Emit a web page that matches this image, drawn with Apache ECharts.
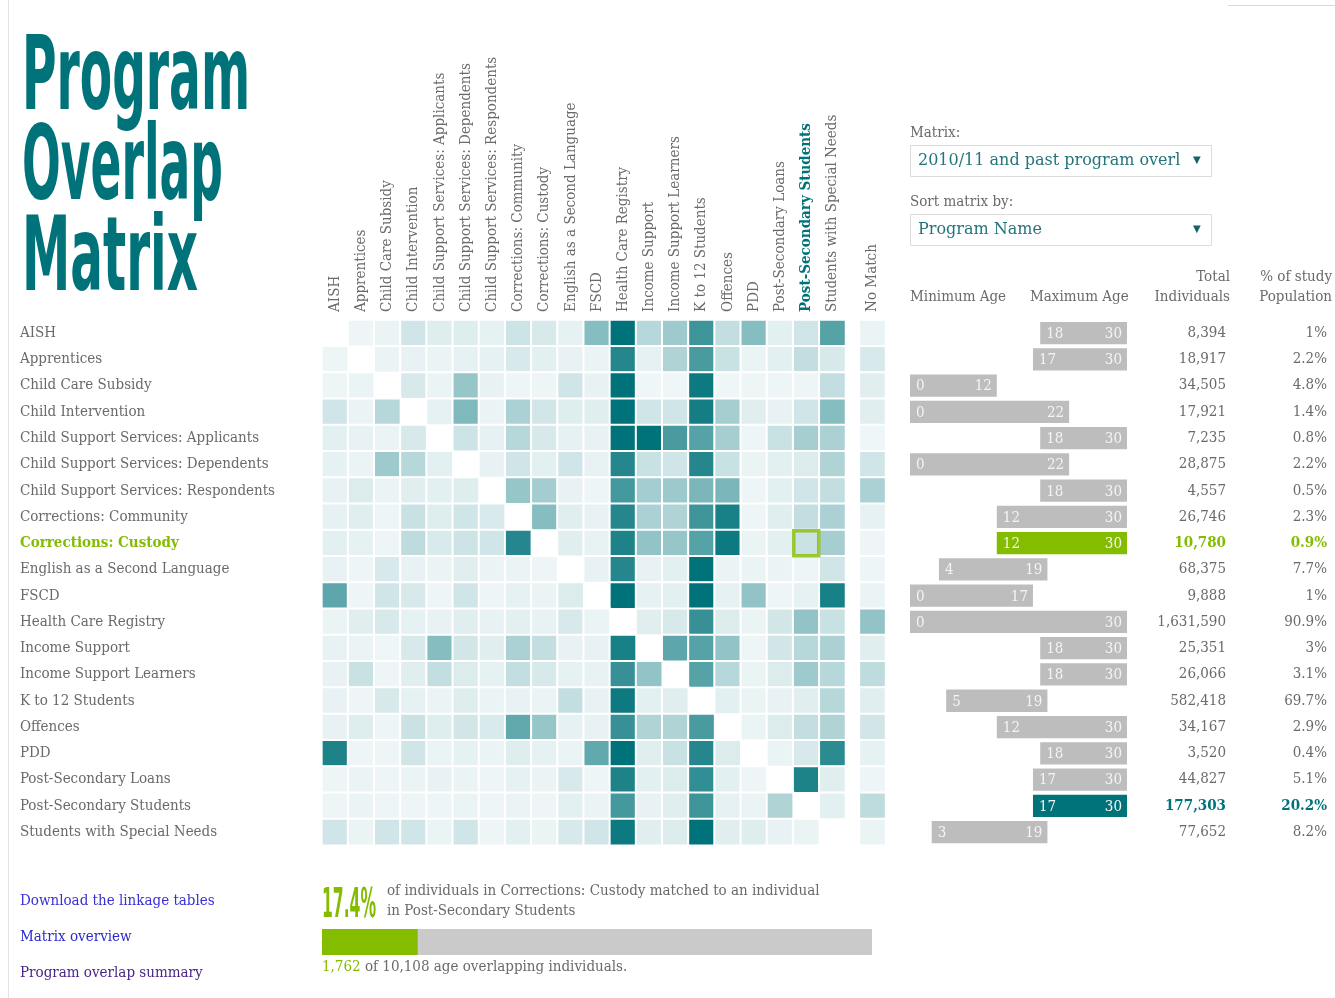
<!DOCTYPE html>
<html>
<head>
<meta charset="utf-8">
<title>Program Overlap Matrix</title>
<script src="https://cdn.jsdelivr.net/npm/echarts@6/dist/echarts.min.js"></script>
<style>
  html, body { margin: 0; padding: 0; background: #fff; }
  #chart { width: 1335px; height: 998px; }
</style>
</head>
<body>
<div id="chart"></div>
<script>
// programs, in matrix order (rows and columns)
const programs = [
  'AISH', 'Apprentices', 'Child Care Subsidy', 'Child Intervention',
  'Child Support Services: Applicants', 'Child Support Services: Dependents',
  'Child Support Services: Respondents', 'Corrections: Community', 'Corrections: Custody',
  'English as a Second Language', 'FSCD', 'Health Care Registry', 'Income Support',
  'Income Support Learners', 'K to 12 Students', 'Offences', 'PDD',
  'Post-Secondary Loans', 'Post-Secondary Students', 'Students with Special Needs'
];
const extraColumn = ['No Match'];

// % of row program matched to column program (null = same program)
const overlapPct = [
  [null, 3, 4, 15, 9, 9, 6, 16, 12, 6, 45, 100, 25, 35, 75, 20, 45, 7, 15, 65],
  [3, null, 4, 5, 4, 6, 6, 12, 7, 5, 4, 85, 6, 28, 70, 18, 4, 7, 20, 12],
  [3, 4, null, 12, 4, 38, 5, 3, 3, 15, 5, 100, 2, 2, 95, 2, 3, 3, 3, 20],
  [15, 4, 25, null, 6, 48, 4, 30, 14, 9, 8, 100, 15, 15, 92, 32, 8, 5, 15, 45],
  [7, 5, 4, 12, null, 16, 6, 25, 12, 6, 5, 100, 100, 70, 65, 32, 3, 18, 32, 30],
  [6, 4, 35, 25, 7, null, 5, 15, 7, 15, 5, 85, 18, 15, 85, 18, 4, 7, 10, 28],
  [5, 10, 4, 8, 7, 9, null, 38, 33, 5, 3, 72, 33, 36, 50, 50, 3, 7, 15, 20],
  [6, 8, 3, 18, 9, 15, 11, null, 45, 8, 5, 85, 30, 28, 75, 90, 3, 8, 20, 30],
  [7, 6, 3, 22, 11, 16, 15, 85, null, 8, 5, 88, 40, 38, 65, 95, 4, 7, 17, 32],
  [5, 3, 12, 5, 4, 8, 4, 4, 3, null, 5, 85, 5, 7, 100, 4, 4, 4, 3, 15],
  [62, 3, 15, 12, 3, 15, 3, 6, 4, 10, null, 100, 6, 7, 100, 6, 40, 3, 6, 90],
  [4, 8, 12, 6, 5, 8, 5, 7, 5, 12, 4, null, 8, 12, 78, 10, 4, 14, 40, 18],
  [5, 4, 2, 12, 45, 14, 8, 30, 20, 5, 5, 90, null, 62, 65, 40, 3, 14, 25, 30],
  [5, 18, 3, 8, 20, 10, 6, 20, 12, 6, 5, 78, 40, null, 65, 25, 4, 10, 35, 25],
  [5, 3, 12, 6, 4, 9, 4, 5, 4, 20, 5, 95, 7, 8, null, 7, 4, 5, 8, 25],
  [5, 9, 3, 17, 9, 14, 11, 60, 38, 6, 5, 78, 28, 28, 70, null, 4, 10, 20, 28],
  [88, 3, 3, 15, 4, 6, 4, 9, 6, 4, 60, 100, 8, 18, 85, 10, null, 4, 12, 82],
  [3, 4, 3, 4, 5, 4, 3, 6, 4, 12, 3, 88, 7, 10, 80, 7, 3, null, 88, 8],
  [3, 4, 3, 3, 3, 4, 3, 4, 3, 7, 4, 72, 5, 8, 75, 6, 4, 28, null, 7],
  [15, 4, 15, 15, 4, 15, 3, 7, 4, 12, 15, 95, 8, 10, 100, 8, 9, 5, 4, null]
];
const noMatchPct = [4, 12, 8, 8, 2, 15, 30, 6, 3, 3, 4, 40, 8, 22, 8, 14, 6, 3, 22, 4];

const minAge = [18, 17, 0, 0, 18, 0, 18, 12, 12, 4, 0, 0, 18, 18, 5, 12, 18, 17, 17, 3];
const maxAge = [30, 30, 12, 22, 30, 22, 30, 30, 30, 19, 17, 30, 30, 30, 19, 30, 30, 30, 30, 19];
const totalIndividuals = [8394, 18917, 34505, 17921, 7235, 28875, 4557, 26746, 10780, 68375,
  9888, 1631590, 25351, 26066, 582418, 34167, 3520, 44827, 177303, 77652];
const studyPct = [1, 2.2, 4.8, 1.4, 0.8, 2.2, 0.5, 2.3, 0.9, 7.7, 1, 90.9, 3, 3.1, 69.7, 2.9, 0.4, 5.1, 20.2, 8.2];

// selected cell
const focusRow = 8;    // Corrections: Custody
const focusCol = 18;   // Post-Secondary Students
const matchPct = 17.4;
const matchedCount = 1762;
const overlapCount = 10108;

const TEAL = '#00737a';
const GREEN = '#84bc00';
const GREY = '#6a6a6a';
const SLAB = '"DejaVu Serif Condensed", "DejaVu Serif", serif';
const NARROW = '"DejaVu Sans Condensed", "DejaVu Sans", sans-serif';
const FS = 15;

function fitScale(text, font, width) {
  const ctx = document.createElement('canvas').getContext('2d');
  ctx.font = font;
  return width / ctx.measureText(text).width;
}

const heatData = [];
overlapPct.forEach((row, r) => {
  row.forEach((v, c) => {
    if (v !== null) heatData.push([c, r, v]);
  });
});
const noMatchData = noMatchPct.map((v, r) => [0, r, v]);
const ageData = programs.map((p, i) => [i, minAge[i], maxAge[i]]);

const fmt = n => n.toLocaleString('en-US');

const chart = echarts.init(document.getElementById('chart'));

const titleFont = 'bold 103px ' + NARROW;
const bigFont = 'bold 41px ' + NARROW;
const titleLines = [
  { text: 'Program', y: 82, w: 228 },
  { text: 'Overlap', y: 172, w: 201 },
  { text: 'Matrix', y: 263, w: 176 }
];

const graphics = [
  { type: 'line', shape: { x1: 8.5, y1: 0, x2: 8.5, y2: 998 }, style: { stroke: '#e2e2ea', lineWidth: 1 } },
  { type: 'line', shape: { x1: 1228, y1: 5.5, x2: 1335, y2: 5.5 }, style: { stroke: '#d8d8d8', lineWidth: 1 } }
];
titleLines.forEach(t => {
  graphics.push({
    type: 'text', x: 22, y: t.y, scaleX: fitScale(t.text, titleFont, t.w),
    style: { text: t.text, font: titleFont, fill: TEAL, verticalAlign: 'middle' }
  });
});

function txt(text, x, y, opts) {
  return {
    type: 'text', x: x, y: y,
    style: Object.assign({ text: text, font: FS + 'px ' + SLAB, fill: GREY, verticalAlign: 'middle', align: 'left' }, opts || {})
  };
}

// controls
graphics.push(txt('Matrix:', 910, 133));
graphics.push({ type: 'rect', shape: { x: 910.5, y: 145.5, width: 301, height: 31 }, style: { fill: '#fff', stroke: '#dcdcdc' } });
graphics.push(txt('2010/11 and past program overlap', 918, 161, { font: '16px "DejaVu Serif", serif', fill: '#23757b', width: 272, overflow: 'truncate', ellipsis: '' }));
graphics.push(txt('▼', 1193, 160, { font: '10px "DejaVu Sans", sans-serif', fill: '#1b5f66' }));
graphics.push(txt('Sort matrix by:', 910, 202));
graphics.push({ type: 'rect', shape: { x: 910.5, y: 214.5, width: 301, height: 31 }, style: { fill: '#fff', stroke: '#dcdcdc' } });
graphics.push(txt('Program Name', 918, 230, { font: '16px "DejaVu Serif", serif', fill: '#23757b' }));
graphics.push(txt('▼', 1193, 229, { font: '10px "DejaVu Sans", sans-serif', fill: '#1b5f66' }));

// right-hand column headers
graphics.push(txt('Minimum Age', 910, 297));
graphics.push(txt('Maximum Age', 1030, 297));
graphics.push(txt('Total', 1230, 277, { align: 'right' }));
graphics.push(txt('Individuals', 1230, 297, { align: 'right' }));
graphics.push(txt('% of study', 1332, 277, { align: 'right' }));
graphics.push(txt('Population', 1332, 297, { align: 'right' }));

// links
graphics.push(txt('Download the linkage tables', 20, 901, { fill: '#3a2fd2' }));
graphics.push(txt('Matrix overview', 20, 937, { fill: '#2a2ad0' }));
graphics.push(txt('Program overlap summary', 20, 973, { fill: '#4a2585' }));

// summary
graphics.push({
  type: 'text', x: 322, y: 906, scaleX: fitScale(matchPct + '%', bigFont, 54),
  style: { text: matchPct + '%', font: bigFont, fill: GREEN, verticalAlign: 'middle' }
});
graphics.push(txt('of individuals in ' + programs[focusRow] + ' matched to an individual', 387, 891));
graphics.push(txt('in ' + programs[focusCol], 387, 911));
graphics.push({
  type: 'text', x: 322, y: 967,
  style: {
    text: '{g|' + fmt(matchedCount) + '} of ' + fmt(overlapCount) + ' age overlapping individuals.',
    font: FS + 'px ' + SLAB, fill: GREY, verticalAlign: 'middle',
    rich: { g: { fill: GREEN, font: FS + 'px ' + SLAB } }
  }
});

const option = {
  backgroundColor: '#fff',
  animation: false,
  grid: [
    { left: 321.9, top: 319.9, width: 523.6, height: 525.3 },
    { left: 859.4, top: 319.9, width: 26.18, height: 525.3 },
    { left: 910, top: 319.9, width: 217, height: 525.3 },
    { left: 322, top: 929, width: 550, height: 26 }
  ],
  xAxis: [
    {
      type: 'category', gridIndex: 0, data: programs, position: 'top',
      axisLine: { show: false }, axisTick: { show: false }, splitLine: { show: false },
      axisLabel: {
        rotate: -90, margin: 8, interval: 0, color: GREY, fontFamily: SLAB, fontSize: FS,
        formatter: (v, i) => (i === focusCol ? '{hl|' + v + '}' : v),
        rich: { hl: { color: TEAL, fontWeight: 'bold', fontFamily: SLAB, fontSize: FS } }
      }
    },
    {
      type: 'category', gridIndex: 1, data: extraColumn, position: 'top',
      axisLine: { show: false }, axisTick: { show: false },
      axisLabel: { rotate: -90, margin: 8, color: GREY, fontFamily: SLAB, fontSize: FS }
    },
    { type: 'value', gridIndex: 2, min: 0, max: 30, show: false },
    { type: 'value', gridIndex: 3, min: 0, max: 100, show: false }
  ],
  yAxis: [
    {
      type: 'category', gridIndex: 0, data: programs, inverse: true,
      axisLine: { show: false }, axisTick: { show: false },
      axisLabel: {
        align: 'left', margin: 302, interval: 0, color: GREY, fontFamily: SLAB, fontSize: FS,
        formatter: (v, i) => (i === focusRow ? '{hl|' + v + '}' : v),
        rich: { hl: { color: GREEN, fontWeight: 'bold', fontFamily: SLAB, fontSize: FS } }
      }
    },
    { type: 'category', gridIndex: 1, data: programs, inverse: true, show: false },
    { type: 'category', gridIndex: 2, data: programs, inverse: true, show: false },
    { type: 'category', gridIndex: 3, data: ['match'], show: false }
  ],
  visualMap: {
    type: 'continuous', show: false, min: 0, max: 100, seriesIndex: [0, 1], dimension: 2,
    inRange: { color: ['#f4f9fa', '#00737a'] }
  },
  series: [
    {
      type: 'heatmap', xAxisIndex: 0, yAxisIndex: 0, data: heatData,
      itemStyle: { borderColor: '#fff', borderWidth: 2 },
      emphasis: { disabled: true }
    },
    {
      type: 'heatmap', xAxisIndex: 1, yAxisIndex: 1, data: noMatchData,
      itemStyle: { borderColor: '#fff', borderWidth: 2 },
      emphasis: { disabled: true }
    },
    {
      type: 'scatter', xAxisIndex: 0, yAxisIndex: 0, z: 5,
      data: [[focusCol, focusRow]], symbol: 'rect', symbolSize: 25,
      itemStyle: { color: 'rgba(0,0,0,0)', borderColor: GREEN, borderWidth: 3.5 },
      emphasis: { disabled: true }
    },
    {
      type: 'custom', xAxisIndex: 2, yAxisIndex: 2, data: ageData,
      encode: { x: [1, 2], y: 0 },
      renderItem: function (params, api) {
        const row = api.value(0);
        const i = params.dataIndex;
        const p0 = api.coord([api.value(1), row]);
        const p1 = api.coord([api.value(2), row]);
        const h = api.size([0, 1])[1] - 4;
        const fill = i === focusRow ? GREEN : (i === focusCol ? TEAL : '#bdbdbd');
        const barFont = FS + 'px ' + SLAB;
        const hl = i === focusRow || i === focusCol;
        const numColor = i === focusRow ? GREEN : (i === focusCol ? TEAL : GREY);
        const numFont = (hl ? 'bold ' : '') + FS + 'px ' + SLAB;
        return {
          type: 'group',
          children: [
            { type: 'rect', shape: { x: p0[0], y: p0[1] - h / 2, width: p1[0] - p0[0], height: h }, style: { fill: fill } },
            { type: 'text', x: p0[0] + 6, y: p0[1] + 1, style: { text: String(api.value(1)), font: barFont, fill: '#f4f4f4', verticalAlign: 'middle' } },
            { type: 'text', x: p1[0] - 5, y: p0[1] + 1, style: { text: String(api.value(2)), font: barFont, fill: '#f4f4f4', align: 'right', verticalAlign: 'middle' } },
            { type: 'text', x: 1226, y: p0[1], style: { text: fmt(totalIndividuals[i]), font: numFont, fill: numColor, align: 'right', verticalAlign: 'middle' } },
            { type: 'text', x: 1327, y: p0[1], style: { text: studyPct[i] + '%', font: numFont, fill: numColor, align: 'right', verticalAlign: 'middle' } }
          ]
        };
      }
    },
    {
      type: 'bar', xAxisIndex: 3, yAxisIndex: 3, data: [matchPct], barWidth: 26,
      showBackground: true, backgroundStyle: { color: '#cacaca' },
      itemStyle: { color: GREEN }, emphasis: { disabled: true }
    }
  ],
  graphic: { elements: graphics }
};

chart.setOption(option);
</script>
</body>
</html>
